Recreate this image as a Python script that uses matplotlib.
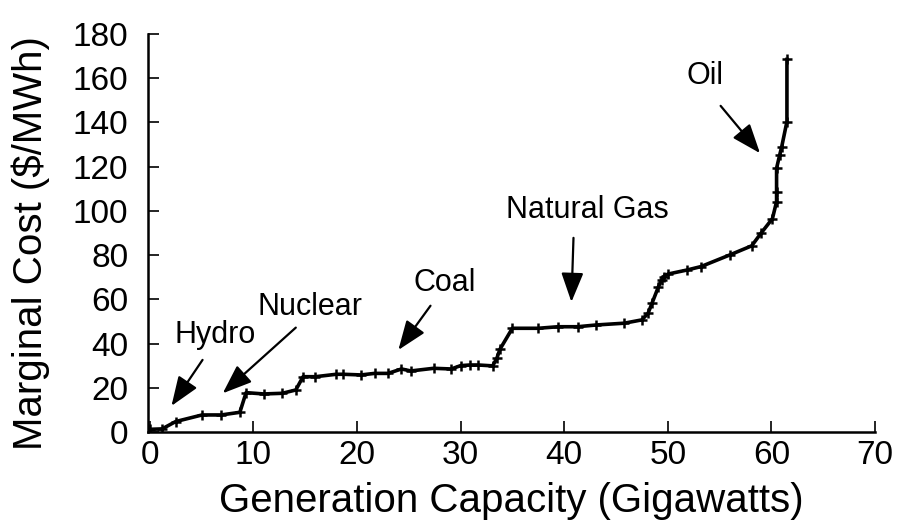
import matplotlib
matplotlib.use('Agg')

import matplotlib.pyplot as plt

plt.rcParams['font.family'] = ['Liberation Sans', 'DejaVu Sans']

# 发电容量 (GW) 与边际成本 ($/MWh)
capacity = [0.0, 1.2, 2.5, 5.05, 6.9, 8.7, 9.3, 11.0, 12.8, 14.1, 14.8, 16.0,
            18.0, 18.7, 20.4, 21.7, 23.0, 24.3, 25.2, 27.4, 29.1, 30.0, 30.9,
            31.7, 33.1, 33.5, 33.8, 35.0, 37.5, 39.4, 41.3, 43.1, 45.8, 47.5,
            48.1, 48.5, 49.1, 49.4, 49.6, 50.0, 51.9, 53.2, 56.0, 58.1, 59.0,
            60.1, 60.5, 60.5, 60.5, 60.8, 61.0, 61.5, 61.5]
cost = [1.2, 1.4, 4.7, 7.7, 7.7, 8.9, 17.8, 17.2, 17.5, 19.0, 25.0, 25.0,
        26.1, 26.1, 25.8, 26.5, 26.5, 28.5, 27.6, 28.8, 28.5, 30.0, 30.3,
        30.3, 29.9, 33.3, 37.4, 46.9, 46.9, 47.6, 47.6, 48.4, 49.2, 50.7,
        53.7, 58.5, 65.7, 68.8, 70.3, 71.4, 73.3, 74.8, 80.1, 84.2, 89.9,
        96.5, 104.2, 108.7, 119.3, 125.3, 129.1, 140.4, 168.5]

labels = ['Hydro', 'Nuclear', 'Coal', 'Natural Gas', 'Oil']
label_pos = [(6.3, 43.9), (15.5, 56.6), (28.5, 67.4), (42.2, 100.5), (53.6, 160.8)]
arrow_tail = [(5.1, 32.6), (14.1, 47.2), (27.1, 57.1), (40.9, 87.8), (55.1, 147.5)]
arrow_tip = [(2.1, 11.8), (7.05, 17.5), (24.0, 37.1), (40.7, 58.8), (58.9, 126.1)]

fig = plt.figure(figsize=(8.98, 5.27), dpi=100)
ax = fig.add_axes([0.1644, 0.1803, 0.810, 0.7552])

ax.plot(capacity, cost, color='black', lw=2.6, marker='+', ms=6.5, mew=1.8)

for name, pos, tail, tip in zip(labels, label_pos, arrow_tail, arrow_tip):
    ax.text(pos[0], pos[1], name, fontsize=22, ha='center', va='center')
    ax.annotate('', xy=tip, xytext=tail,
                arrowprops=dict(arrowstyle='-|>,head_length=1.0,head_width=0.38',
                                mutation_scale=18, lw=1.6, color='black',
                                shrinkA=0, shrinkB=0))

ax.set_xlim(-0.2, 70)
ax.set_ylim(0, 180)
ax.set_xticks(range(0, 71, 10))
ax.set_yticks(range(0, 181, 20))
ax.spines['top'].set_visible(False)
ax.spines['right'].set_visible(False)
for s in ['left', 'bottom']:
    ax.spines[s].set_linewidth(1.8)
ax.tick_params(direction='in', length=8, width=1.2, labelsize=24)
ax.tick_params(axis='x', pad=6)
ax.tick_params(axis='y', pad=14)
ax.set_xlabel('Generation Capacity (Gigawatts)', fontsize=29, labelpad=8)
ax.set_ylabel('Marginal Cost ($/MWh)', fontsize=29)
ax.yaxis.set_label_coords(-0.134, 0.475)

fig.savefig('out.png', dpi=100)
